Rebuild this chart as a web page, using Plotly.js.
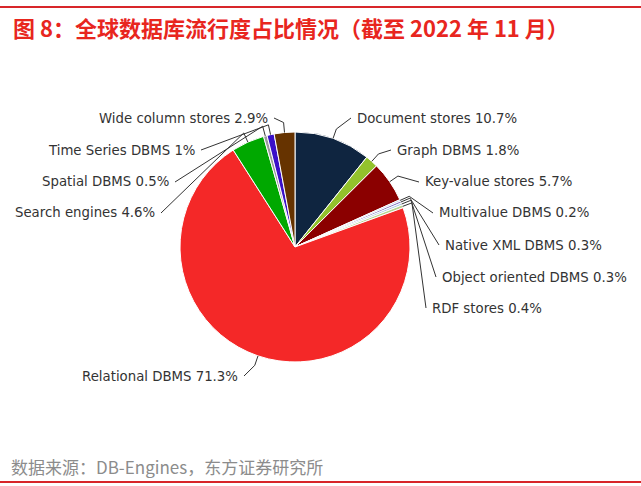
<!DOCTYPE html>
<html><head><meta charset="utf-8">
<script src="https://cdn.plot.ly/plotly-3.0.1.min.js"></script>
<style>html,body{margin:0;padding:0;background:#fff}</style>
</head><body><div id="chart" style="width:641px;height:486px"></div>
<script>
const categories = ["Document stores","Graph DBMS","Key-value stores","Multivalue DBMS","Native XML DBMS","Object oriented DBMS","RDF stores","Relational DBMS","Search engines","Spatial DBMS","Time Series DBMS","Wide column stores"];
const values = [10.7,1.8,5.7,0.2,0.3,0.3,0.4,71.3,4.6,0.5,1,2.9];
const valueLabels = ["10.7%","1.8%","5.7%","0.2%","0.3%","0.3%","0.4%","71.3%","4.6%","0.5%","1%","2.9%"];
const colors = ["#0f2540","#93c22c","#8b0000","#9fb3dc","#8a7cc4","#a9c9e6","#b5d48e","#f42828","#00a800","#9a9a9a","#3a10c8","#663300"];

const W=641,H=486, cx=295, cy=247, R=115;
// label layout: [side, text x (anchor edge), text y]
const labelPos = [
  ["r",355,118],["r",395,150],["r",423,182],["r",437,213],["r",443,245],["r",440,277],["r",430,308],
  ["l",240,376],["l",157,213],["l",171,182],["l",197,150],["l",270,118]
];
const total = values.reduce((a,b)=>a+b,0);
const px = x=>x/W, py = y=>1-y/H;
const annotations=[], shapes=[];
let cum=0;
values.forEach((v,i)=>{
  const th = (cum + v/2)/total*2*Math.PI; cum+=v;
  const tx = cx+R*Math.sin(th), ty = cy-R*Math.cos(th);
  const ex = cx+(R+10)*Math.sin(th), ey = cy-(R+10)*Math.cos(th);
  const [side,lx,ly] = labelPos[i];
  const endX = side==="r"? lx-4 : lx+4;
  shapes.push({type:"path", xref:"paper", yref:"paper",
    path:`M ${px(tx)} ${py(ty)} L ${px(ex)} ${py(ey)} L ${px(endX)} ${py(ly)}`,
    line:{color:"#333", width:1}});
  annotations.push({xref:"paper", yref:"paper", x:px(lx), y:py(ly), showarrow:false,
    xanchor: side==="r"?"left":"right", yanchor:"middle",
    text: categories[i]+" "+valueLabels[i],
    font:{family:"DejaVu Sans", size:13.3, color:"#333"}});
});
annotations.push({xref:"paper",yref:"paper",x:px(11),y:py(27),xanchor:"left",yanchor:"middle",showarrow:false,
  text:"<b>图 8：全球数据库流行度占比情况（截至 2022 年 11 月）</b>",
  font:{family:"Noto Sans CJK SC", size:22, color:"#e8261e"}});
annotations.push({xref:"paper",yref:"paper",x:px(9),y:py(466),xanchor:"left",yanchor:"middle",showarrow:false,
  text:"数据来源：DB-Engines，东方证券研究所",
  font:{family:"Noto Sans CJK SC", size:17, color:"#8c8c8c"}});
shapes.push({type:"line",xref:"paper",yref:"paper",x0:0,x1:1,y0:py(7),y1:py(7),line:{color:"#d8262a",width:2}});
shapes.push({type:"line",xref:"paper",yref:"paper",x0:0,x1:1,y0:py(482),y1:py(482),line:{color:"#d8262a",width:2}});

const trace = {type:"pie", labels:categories, values:values, sort:false, direction:"clockwise", rotation:0,
  marker:{colors:colors, line:{color:"#fff", width:1}}, textinfo:"none", hoverinfo:"label+percent",
  domain:{x:[(cx-R)/W,(cx+R)/W], y:[1-(cy+R)/H, 1-(cy-R)/H]}, showlegend:false};
Plotly.newPlot("chart",[trace],{width:W,height:H,margin:{l:0,r:0,t:0,b:0},paper_bgcolor:"#fff",
  showlegend:false, annotations:annotations, shapes:shapes},{displayModeBar:false});
</script></body></html>
